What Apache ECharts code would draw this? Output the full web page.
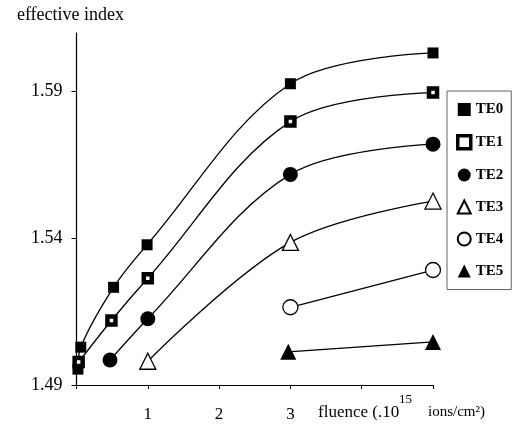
<!DOCTYPE html>
<html>
<head>
<meta charset="utf-8">
<script src="https://cdn.jsdelivr.net/npm/echarts@6/dist/echarts.min.js"></script>
<style>
  html, body { margin: 0; padding: 0; background: #fff; }
  #chart { width: 512px; height: 426px; }
</style>
</head>
<body>
<div id="chart"></div>
<script>
// fluence (x 1e15 ions/cm2) and effective index
var te0X = [0.02, 0.06, 0.52, 0.99, 3.0, 5.0];
var te0Y = [1.4954, 1.5029, 1.5233, 1.5378, 1.5927, 1.6032];
var te1X = [0.03, 0.49, 1.0, 3.0, 5.0];
var te1Y = [1.4978, 1.5120, 1.5264, 1.5798, 1.5897];
var te2X = [0.47, 1.0, 3.0, 5.0];
var te2Y = [1.4985, 1.5126, 1.5618, 1.5721];
var te3X = [1.0, 3.0, 5.0];
var te3Y = [1.4981, 1.5386, 1.5527];
var te4X = [3.0, 5.0];
var te4Y = [1.5165, 1.5292];
var te5X = [2.97, 5.0];
var te5Y = [1.5013, 1.5047];

var xTicks = [0, 1, 2, 3, 4, 5];
var xTickLabels = [1, 2, 3];
var yTicks = [1.49, 1.54, 1.59];

var serif = 'Liberation Serif';

function pairs(xs, ys) {
  return xs.map(function (x, i) { return [x, ys[i]]; });
}

function makeSeries(name, xs, ys, symbol, size, fill, borderW) {
  return {
    name: name,
    type: 'line',
    smooth: 0.35,
    data: pairs(xs, ys),
    symbol: symbol,
    symbolSize: size,
    showAllSymbol: true,
    lineStyle: { color: '#000', width: 1.3 },
    itemStyle: { color: fill, borderColor: '#000', borderWidth: borderW },
    z: 3
  };
}

var myChart = echarts.init(document.getElementById('chart'));
myChart.setOption({
  animation: false,
  backgroundColor: '#fff',
  grid: { left: 76.5, right: 79, top: 33, bottom: 41 },
  legend: {
    orient: 'vertical',
    left: 447,
    top: 91,
    itemWidth: 13,
    itemHeight: 13,
    itemGap: 17,
    padding: [11, 8, 11, 9],
    borderColor: '#666',
    borderWidth: 1,
    textStyle: { fontFamily: serif, fontSize: 15, fontWeight: 'bold', color: '#000' },
    data: [
      { name: 'TE0', icon: 'rect' },
      { name: 'TE1', icon: 'rect', itemStyle: { color: '#fff', borderColor: '#000', borderWidth: 3.5 } },
      { name: 'TE2', icon: 'circle' },
      { name: 'TE3', icon: 'triangle' },
      { name: 'TE4', icon: 'circle' },
      { name: 'TE5', icon: 'triangle' }
    ]
  },
  xAxis: {
    type: 'value',
    min: 0,
    max: 5,
    axisLine: { lineStyle: { color: '#000', width: 1.2 } },
    axisTick: { length: 4, customValues: xTicks, lineStyle: { color: '#000' } },
    axisLabel: {
      customValues: xTickLabels,
      margin: 21,
      fontFamily: serif,
      fontSize: 17,
      color: '#000'
    },
    splitLine: { show: false }
  },
  yAxis: {
    type: 'value',
    min: 1.49,
    max: 1.61,
    name: 'effective index',
    nameLocation: 'end',
    nameGap: 9,
    nameTextStyle: { fontFamily: serif, fontSize: 18, color: '#000', align: 'center', padding: [0, 12, 0, 0] },
    axisLine: { show: true, lineStyle: { color: '#000', width: 1.2 } },
    axisTick: { show: true, length: 5, customValues: yTicks, lineStyle: { color: '#000' } },
    axisLabel: {
      customValues: yTicks,
      margin: 14,
      fontFamily: serif,
      fontSize: 18,
      color: '#000',
      formatter: function (v) { return v.toFixed(2); }
    },
    splitLine: { show: false }
  },
  graphic: [
    { type: 'text', left: 318, top: 404, style: { text: 'fluence (.10', font: '17px "Liberation Serif"', fill: '#000' } },
    { type: 'text', left: 399, top: 393, style: { text: '15', font: '13px "Liberation Serif"', fill: '#000' } },
    { type: 'text', left: 428, top: 405, style: { text: 'ions/cm²)', font: '15px "Liberation Serif"', fill: '#000' } }
  ],
  series: [
    makeSeries('TE0', te0X, te0Y, 'rect', 11, '#000', 0),
    makeSeries('TE1', te1X, te1Y, 'rect', 8, '#fff', 4.5),
    makeSeries('TE2', te2X, te2Y, 'circle', 15, '#000', 0),
    makeSeries('TE3', te3X, te3Y, 'triangle', 16, '#fff', 1.3),
    makeSeries('TE4', te4X, te4Y, 'circle', 15, '#fff', 1.3),
    makeSeries('TE5', te5X, te5Y, 'triangle', 16, '#000', 0)
  ]
});
</script>
</body>
</html>
